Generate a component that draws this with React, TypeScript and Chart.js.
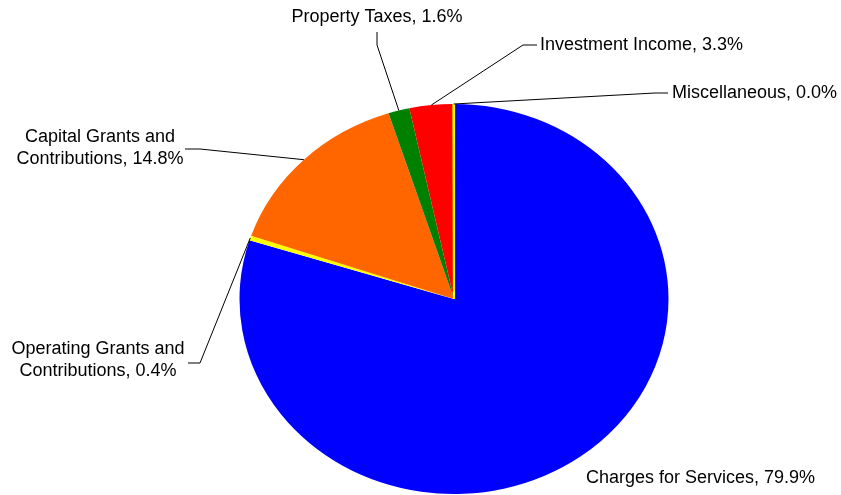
import React, { useEffect, useRef } from "react";
import { Chart, registerables } from "chart.js";

Chart.register(...registerables);

const categories = [
  "Charges for Services",
  "Operating Grants and Contributions",
  "Capital Grants and Contributions",
  "Property Taxes",
  "Investment Income",
  "Miscellaneous",
];
const shares = [79.9, 0.4, 14.8, 1.6, 3.3, 0.04];
const sliceColors = ["#0000FF", "#FFFF00", "#FF6600", "#008000", "#FF0000", "#FFFF00"];

const SX = 1.1; // horizontal stretch of the pie (elliptical look)
const FONT = '18px "Liberation Sans", Arial, sans-serif';
const LINE_H = 22;

const callouts = [
  { elbow: null, end: null, x: 586, y: 478, align: "left" },
  { elbow: [200, 363], end: [188, 363], x: 98, y: 349, align: "center" },
  { elbow: [200, 149], end: [185, 149], x: 100, y: 137, align: "center" },
  { elbow: [377, 45], end: [377, 32], x: 377, y: 17, align: "center" },
  { elbow: [523, 45], end: [537, 45], x: 540, y: 45, align: "left" },
  { elbow: [655, 93], end: [668, 93], x: 672, y: 93, align: "left" },
];

function labelLines(name: string, value: number): string[] {
  const pct = `, ${value.toFixed(1)}%`;
  const idx = name.indexOf(" and ");
  if (idx >= 0) {
    return [name.slice(0, idx + 4), name.slice(idx + 5) + pct];
  }
  return [name + pct];
}

const calloutPlugin = {
  id: "callouts",
  beforeDatasetsDraw(chart: any) {
    const el = chart.getDatasetMeta(0).data[0];
    const ctx = chart.ctx;
    ctx.save();
    ctx.translate(el.x, el.y);
    ctx.scale(SX, 1);
    ctx.translate(-el.x, -el.y);
  },
  afterDatasetsDraw(chart: any) {
    const ctx = chart.ctx;
    ctx.restore();
    const meta = chart.getDatasetMeta(0);
    const labels = chart.data.labels as string[];
    const values = chart.data.datasets[0].data as number[];
    ctx.save();
    meta.data.forEach((el: any, i: number) => {
      const c = callouts[i];
      if (!c) return;
      if (c.elbow && c.end) {
        const a = (el.startAngle + el.endAngle) / 2;
        const ax = el.x + Math.cos(a) * el.outerRadius * SX;
        const ay = el.y + Math.sin(a) * el.outerRadius;
        ctx.beginPath();
        ctx.strokeStyle = "#000";
        ctx.lineWidth = 1;
        ctx.moveTo(ax, ay);
        ctx.lineTo(c.elbow[0], c.elbow[1]);
        ctx.lineTo(c.end[0], c.end[1]);
        ctx.stroke();
      }
      ctx.font = FONT;
      ctx.fillStyle = "#000";
      ctx.textBaseline = "middle";
      ctx.textAlign = c.align as CanvasTextAlign;
      const lines = labelLines(labels[i], values[i]);
      lines.forEach((t, k) => ctx.fillText(t, c.x, c.y + k * LINE_H));
    });
    ctx.restore();
  },
};

export default function App() {
  const ref = useRef<HTMLCanvasElement | null>(null);
  useEffect(() => {
    if (!ref.current) return;
    const chart = new Chart(ref.current, {
      type: "pie",
      data: {
        labels: categories,
        datasets: [
          {
            data: shares,
            backgroundColor: sliceColors,
            borderColor: sliceColors,
            borderWidth: [0, 0, 0, 0, 0, 2],
            clip: false,
          } as any,
        ],
      },
      options: {
        responsive: false,
        animation: false,
        events: [],
        layout: { padding: { left: 258, right: 191, top: 103, bottom: 0 } },
        plugins: {
          legend: { display: false },
          tooltip: { enabled: false },
        },
      },
      plugins: [calloutPlugin],
    });
    return () => chart.destroy();
  }, []);
  return (
    <div style={{ position: "absolute", left: 0, top: 0, width: 841, height: 495, background: "#fff" }}>
      <canvas ref={ref} width={841} height={495} style={{ display: "block" }} />
    </div>
  );
}
